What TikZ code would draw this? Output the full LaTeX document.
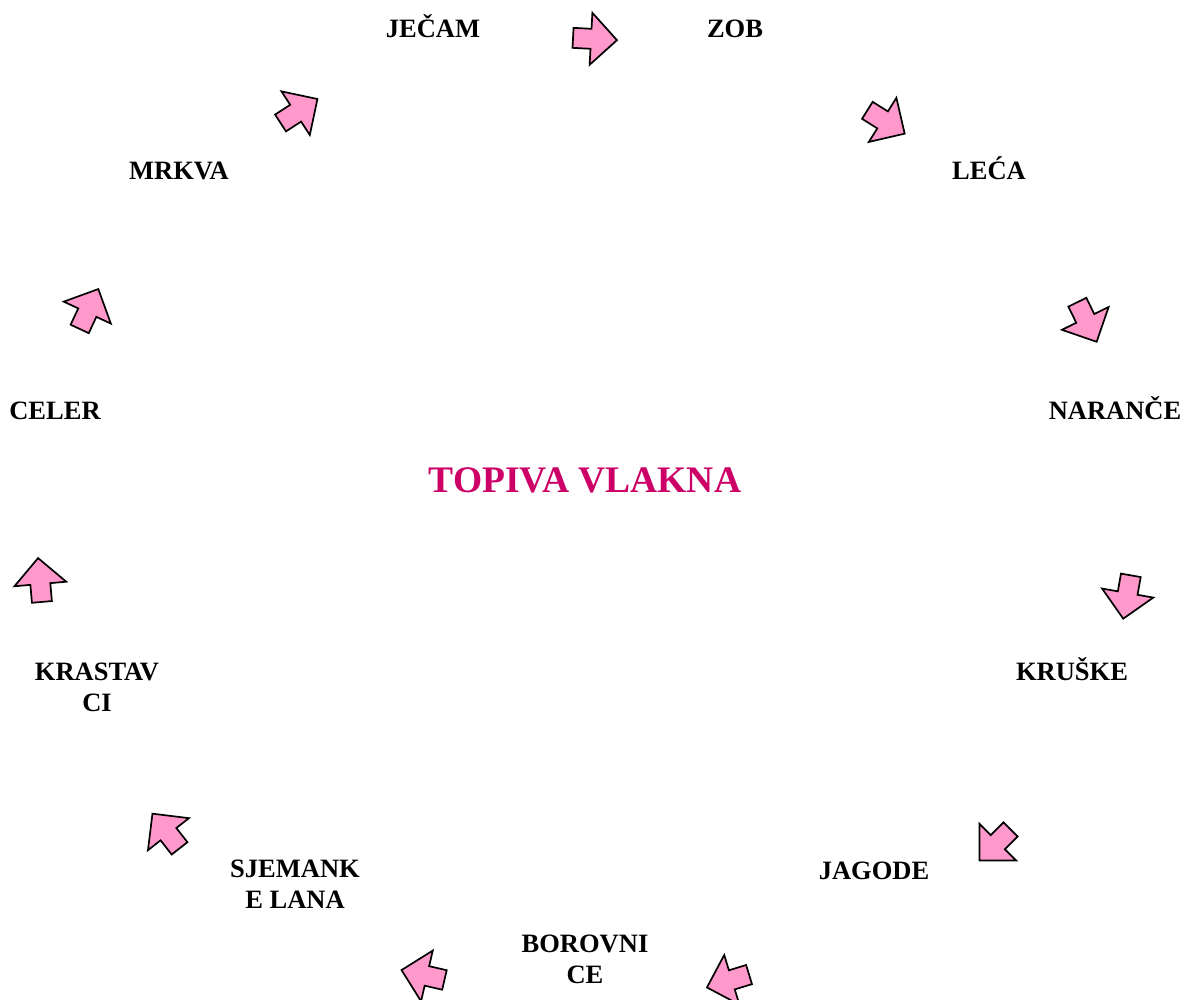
\documentclass[tikz,border=0pt]{standalone}
\usepackage{fontspec}
\setmainfont{Liberation Serif}

\tikzset{
  blockarrow/.pic={
    \draw[fill=arrowpink, line width=1.7pt, line join=miter]
      (22,0) -- (-4,26) -- (-4,10) -- (-22,10) -- (-22,-10) -- (-4,-10) -- (-4,-26) -- cycle;
  }
}
\definecolor{arrowpink}{HTML}{FF99CC}
\definecolor{titlered}{HTML}{CC0066}

\begin{document}
\begin{tikzpicture}[x=1pt, y=1pt,
  food/.style={font=\fontsize{26.5}{31}\selectfont\bfseries, inner sep=0pt, align=center},
  title/.style={font=\fontsize{37.5}{40}\selectfont\bfseries, text=titlered, inner sep=0pt}]
\useasboundingbox (0,0) rectangle (1185,-999);
% centre
\node[title] (T) at (585,-480) {TOPIVA VLAKNA};
% foods, clockwise from the top
\node[food, anchor=base] (jecam) at (433,-37) {JEČAM};
\node[food, anchor=base] (zob) at (735,-37) {ZOB};
\node[food, anchor=base] (leca) at (989,-179) {LEĆA};
\node[food, anchor=base] (narance) at (1115,-419) {NARANČE};
\node[food, anchor=base] (kruske) at (1072,-680) {KRUŠKE};
\node[food, anchor=base] (jagode) at (874,-879) {JAGODE};
\node[food] (borovnice) at (585,-959) {BOROVNI\\CE};
\node[food] (lan) at (295,-884) {SJEMANK\\E LANA};
\node[food] (krastavci) at (97,-687) {KRASTAV\\CI};
\node[food, anchor=base] (celer) at (55,-419) {CELER};
\node[food, anchor=base] (mrkva) at (179,-179) {MRKVA};
% arrows between them
\pic[rotate=-3] at (595,-39) {blockarrow};
\pic[rotate=-32] at (886,-122) {blockarrow};
\pic[rotate=-64] at (1087,-322) {blockarrow};
\pic[rotate=-100] at (1127,-597) {blockarrow};
\pic[rotate=-135] at (995,-845) {blockarrow};
\pic[rotate=197] at (728,-981) {blockarrow};
\pic[rotate=167] at (423,-975) {blockarrow};
\pic[rotate=128] at (166,-831) {blockarrow};
\pic[rotate=95] at (40,-580) {blockarrow};
\pic[rotate=65] at (89,-309) {blockarrow};
\pic[rotate=33] at (299,-111) {blockarrow};
\end{tikzpicture}
\end{document}
